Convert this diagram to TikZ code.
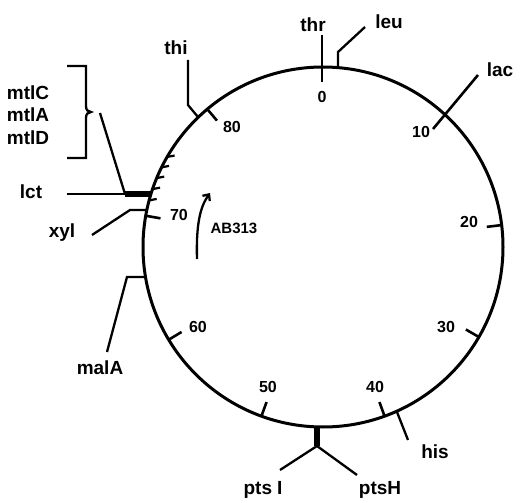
\documentclass[tikz,border=0pt]{standalone}
\usepackage{fontspec}
\setmainfont{Liberation Sans}
\usetikzlibrary{calc,arrows.meta}
\begin{document}
\begin{tikzpicture}[x=1pt,y=1pt,
  ring/.style={line width=3pt},
  mtick/.style={line width=2.6pt},
  conn/.style={line width=2.3pt},
  bar/.style={line width=5.5pt},
  minortick/.style={line width=2.2pt},
  gene/.style={font=\fontsize{19}{19}\selectfont\bfseries, inner sep=0pt},
  num/.style={font=\fontsize{16}{16}\selectfont\bfseries, inner sep=0pt},
  strain/.style={font=\fontsize{15}{15}\selectfont\bfseries, inner sep=0pt}]
\useasboundingbox (0,0) rectangle (520,-503);
\coordinate (C) at (323,-247);
\draw[ring] (C) circle[radius=180];

% inward major ticks
\foreach \a in {7,-30,-70,-110,-149,170,130}
  \draw[mtick] ([shift={(C)}]\a:180) -- ([shift={(C)}]\a:165);
% minor ticks
\foreach \a in {150,153.75,157.5,161.25,165}
  \draw[minortick] ([shift={(C)}]\a:180) -- ++(7.5,1.5);

% numbers
\node[num] (n0) at (322,-97) {0};
\node[num] (n10) at (421,-132) {10};
\node[num] (n20) at (469,-222) {20};
\node[num] (n30) at (446,-327) {30};
\node[num] (n40) at (375,-387) {40};
\node[num] (n50) at (268,-387) {50};
\node[num] (n60) at (198,-327) {60};
\node[num] (n70) at (179,-215) {70};
\node[num] (n80) at (232,-127) {80};

% thr
\node[gene] (thr) at (313,-25) {thr};
\coordinate (thrA) at (322,-35);
\coordinate (thrB) at (322,-82);
\draw[mtick] (thrA) -- (thrB);

% leu
\node[gene] (leu) at (389,-22) {leu};
\coordinate (leuA) at (338,-67);
\coordinate (leuB) at (338,-52);
\coordinate (leuC) at (365,-27);
\draw[conn] (leuA) -- (leuB) -- (leuC);

% lac
\node[gene] (lac) at (500,-70) {lac};
\coordinate (lacA) at (433,-129);
\coordinate (lacB) at (478,-75);
\draw[mtick] (lacA) -- (lacB);

% his
\node[gene] (his) at (435,-452) {his};
\coordinate (hisA) at (397,-412);
\coordinate (hisB) at (408,-440);
\draw[conn] (hisA) -- (hisB);

% pts
\node[gene] (ptsI) at (263,-490) {pts\hspace{5pt}I};
\node[gene] (ptsH) at (380,-490) {ptsH};
\coordinate (ptsA) at (317,-426);
\coordinate (ptsB) at (317,-446);
\coordinate (ptsIe) at (280,-470);
\coordinate (ptsHe) at (357,-475);
\draw[bar] (ptsA) -- (ptsB);
\draw[conn] (ptsIe) -- (ptsB) -- (ptsHe);

% malA
\node[gene] (malA) at (100,-368) {malA};
\coordinate (malA1) at (145,-277);
\coordinate (malA2) at (127,-277);
\coordinate (malA3) at (107,-352);
\draw[conn] (malA1) -- (malA2) -- (malA3);

% xyl
\node[gene] (xyl) at (62,-233) {xyl};
\coordinate (xyl1) at (147,-210);
\coordinate (xyl2) at (130,-210);
\coordinate (xyl3) at (92,-235);
\draw[conn] (xyl1) -- (xyl2) -- (xyl3);

% lct
\node[gene] (lct) at (31,-192) {lct};
\coordinate (lct1) at (67,-194);
\coordinate (lct2) at (125,-194);
\coordinate (lct3) at (151,-194);
\draw[conn] (lct1) -- (lct2);
\draw[bar] (lct2) -- (lct3);

% mtl group
\node[gene] (mtlC) at (28,-93) {mtlC};
\node[gene] (mtlA) at (28,-115) {mtlA};
\node[gene] (mtlD) at (28,-138) {mtlD};
\coordinate (mtlL) at (100,-113);
\draw[conn] (mtlL) -- (lct2);
\draw[conn] (67,-66) -- (86,-66) -- (86,-106)
  .. controls (86,-110) and (88,-112) .. (91,-112)
  .. controls (88,-112) and (86,-114) .. (86,-118)
  -- (86,-158) -- (67,-158);

% thi
\node[gene] (thi) at (176,-48) {thi};
\coordinate (thi1) at (188,-60);
\coordinate (thi2) at (188,-105);
\coordinate (thi3) at (198,-117);
\draw[conn] (thi1) -- (thi2) -- (thi3);

% AB313 arrow
\node[strain] (ab) at (234,-228) {AB313};
\coordinate (arrS) at (197,-259);
\coordinate (arrE) at (210,-193);
\draw[conn,-{Straight Barb[length=5pt,width=9pt]}] (arrS) .. controls (196,-225) and (200,-207) .. (arrE);
\end{tikzpicture}
\end{document}
